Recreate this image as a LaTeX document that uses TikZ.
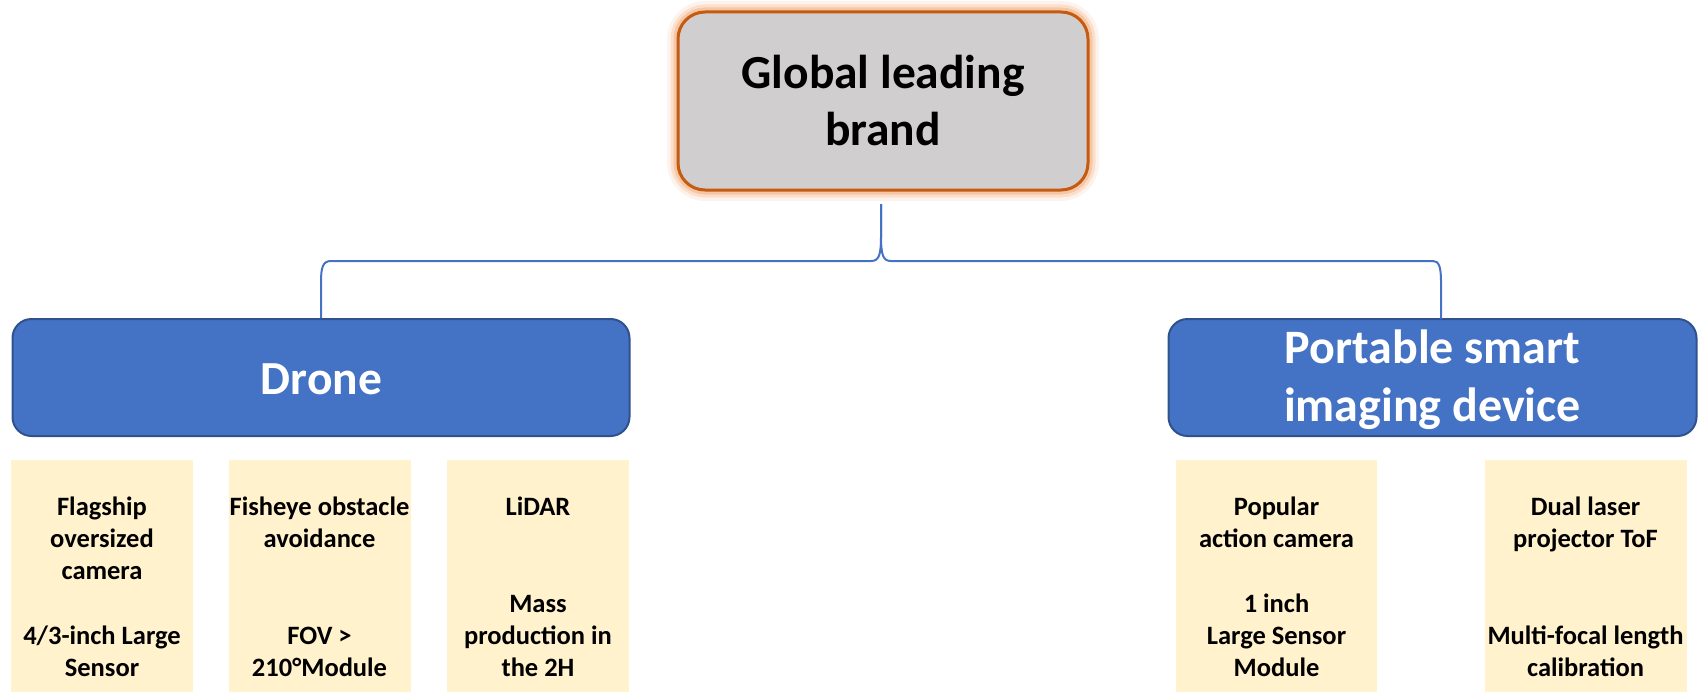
\documentclass[tikz,border=0pt]{standalone}
\usepackage{fontspec}
\setmainfont{Carlito}
\definecolor{topfill}{HTML}{D0CECE}
\definecolor{topdraw}{HTML}{C55A11}
\definecolor{glowc}{HTML}{F4B183}
\definecolor{bluefill}{HTML}{4472C4}
\definecolor{bluedraw}{HTML}{2F528F}
\definecolor{yell}{HTML}{FFF2CC}
\tikzset{
  topbox/.style={rectangle, rounded corners=27pt, fill=topfill, draw=topdraw, line width=3pt,
    inner sep=0pt,
    preaction={draw=glowc, line width=22pt, opacity=0.15},
    preaction={draw=glowc, line width=15pt, opacity=0.3},
    preaction={draw=glowc, line width=9pt, opacity=0.55}},
  bluebox/.style={rectangle, rounded corners=19pt, fill=bluefill, draw=bluedraw, line width=2pt, inner sep=0pt},
  yellowbox/.style={rectangle, fill=yell, inner sep=0pt, minimum width=182pt, minimum height=232pt},
  ytext/.style={anchor=north, align=center, inner sep=0pt, font=\fontsize{26.5}{32.3}\selectfont\bfseries},
  conn/.style={draw=bluefill, line width=2pt}
}
\begin{document}
\begin{tikzpicture}[x=1pt,y=-1pt]
\useasboundingbox (0,0) rectangle (1704,693);
% top
\node[topbox, minimum width=410pt, minimum height=178pt] (top) at (883,101) {};
\node[anchor=north, align=center, inner sep=0pt, font=\fontsize{47.5}{57}\selectfont\bfseries] (toptext) at (883,48.1) {\strut Global leading\\brand};
% blue boxes
\node[bluebox, minimum width=617pt, minimum height=117pt] (dr) at (321,377.5) {};
\node[anchor=base, inner sep=0pt, text=white, font=\fontsize{47.5}{56}\selectfont\bfseries] (drtext) at (321.5,394) {Drone};
\node[bluebox, minimum width=528pt, minimum height=117pt] (pt) at (1432.5,377.5) {};
\node[anchor=north, align=center, inner sep=0pt, text=white, font=\fontsize{48}{58}\selectfont\bfseries] (pttext) at (1432.5,322.4) {\strut Portable smart\\imaging device};
% connector
\coordinate (bt) at (881,204);
\coordinate (ptin) at (1441,319);
\draw[conn] (bt) -- (881,236) .. controls (881,255) and (879,261) .. (871,261) -- (331,261)
  .. controls (323,261) and (321,267) .. (321,282) -- (dr.north);
\draw[conn] (bt) -- (881,236) .. controls (881,255) and (883,261) .. (891,261) -- (1433,261)
  .. controls (1439,261) and (1441,267) .. (1441,282) -- (ptin);
% yellow boxes
\node[yellowbox] (y1) at (102,576) {};
\node[yellowbox] (y2) at (319.5,576) {};
\node[yellowbox] (y3) at (538,576) {};
\node[yellowbox, minimum width=201pt] (y4) at (1276.5,576) {};
\node[yellowbox, minimum width=202pt] (y5) at (1585.5,576) {};
\node[ytext] (t1) at (102,492.4) {\strut Flagship\\oversized\\camera\\\strut\\4/3-inch Large\\Sensor};
\node[ytext] (t2) at (319.5,492.4) {\strut Fisheye obstacle\\avoidance\\\strut\\\strut\\FOV >\\210\textdegree Module};
\node[ytext] (t3) at (538,492.4) {\strut LiDAR\\\strut\\\strut\\Mass\\production in\\the 2H};
\node[ytext] (t4) at (1276.5,492.4) {\strut Popular\\action camera\\\strut\\1 inch\\Large Sensor\\Module};
\node[ytext] (t5) at (1585.5,492.4) {\strut Dual laser\\projector ToF\\\strut\\\strut\\Multi-focal length\\calibration};
\end{tikzpicture}
\end{document}
